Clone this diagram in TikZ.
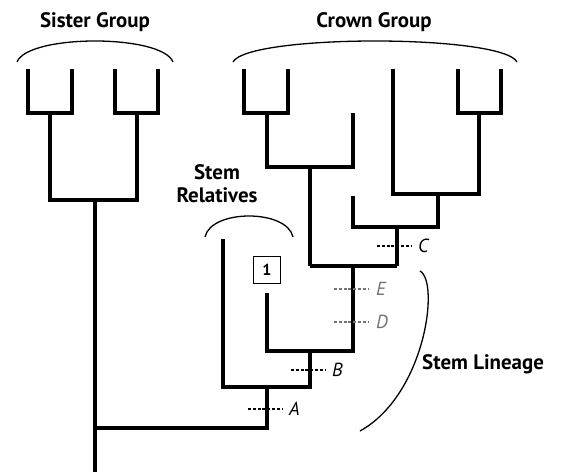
\documentclass[tikz,border=0pt]{standalone}
\usepackage{fontspec}
\setmainfont{PT Sans}
\begin{document}
\begin{tikzpicture}[x=1bp,y=-1bp,
  branch/.style={line width=3.4bp,line cap=butt,line join=miter},
  brace/.style={line width=1.3bp},
  tick/.style={line width=1.7bp,dash pattern=on 3bp off 1.8bp},
  ticklabel/.style={font=\fontsize{19}{19}\selectfont\itshape,anchor=west,inner sep=0pt},
  grp/.style={font=\fontsize{21}{23}\selectfont\bfseries,align=center,inner sep=0pt}]
\useasboundingbox (0,0) rectangle (563,474);
% sister group
\draw[branch] (28,69) -- (28,113) -- (72,113) -- (72,69);
\draw[branch] (115,69) -- (115,113) -- (158,113) -- (158,69);
\draw[branch] (50,113) -- (50,200) -- (137,200) -- (137,113);
\draw[branch] (95,200) -- (95,472);
\draw[branch] (95,428) -- (267,428) -- (267,387);
% stem relatives
\draw[branch] (223,239) -- (223,387) -- (310,387) -- (310,351);
\draw[branch] (267,293) -- (267,351) -- (353,351) -- (353,266);
% crown group
\draw[branch] (310,266) -- (397,266);
\draw[branch] (244,69) -- (244,113) -- (288,113) -- (288,69);
\draw[branch] (267,113) -- (267,167) -- (353,167) -- (353,113);
\draw[branch] (310,167) -- (310,266);
\draw[branch] (458,69) -- (458,113) -- (501,113) -- (501,69);
\draw[branch] (393,69) -- (393,194) -- (479,194) -- (479,113);
\draw[branch] (353,196) -- (353,227) -- (438,227) -- (438,194);
\draw[branch] (397,227) -- (397,266);
% braces
\draw[brace] (17,62) .. controls (28,34) and (162,34) .. (173,62);
\draw[brace] (233,62) .. controls (248,34) and (502,34) .. (517,62);
\draw[brace] (205,237) .. controls (211,209) and (287,209) .. (293,237);
\draw[brace] (420,271) .. controls (440,282) and (425,395) .. (360,431);
% labels
\node[grp] (sister) at (95,22) {Sister Group};
\node[grp] (crown) at (374,22) {Crown Group};
\node[grp] (stemrel) at (217,184) {Stem\\[0bp]Relatives};
\node[grp,anchor=west] (stemlin) at (422,364) {Stem Lineage};
\node[draw,line width=1.5bp,minimum size=27bp,inner sep=0pt,font=\fontsize{16}{16}\selectfont\bfseries] (one) at (267,270) {1};
% dashed markers
\coordinate (c0) at (377,246); \coordinate (c1) at (412,246);
\coordinate (e0) at (334,289); \coordinate (e1) at (369,289);
\coordinate (d0) at (334,322); \coordinate (d1) at (369,322);
\coordinate (b0) at (291,370); \coordinate (b1) at (326,370);
\coordinate (a0) at (248,409); \coordinate (a1) at (283,409);
\draw[tick] (c0) -- (c1);
\draw[tick,black!55] (e0) -- (e1);
\draw[tick,black!55] (d0) -- (d1);
\draw[tick] (b0) -- (b1);
\draw[tick] (a0) -- (a1);
\node[ticklabel] (lc) at (418,246) {C};
\node[ticklabel,text=black!55] (le) at (376,289) {E};
\node[ticklabel,text=black!55] (ld) at (376,322) {D};
\node[ticklabel] (lb) at (332,370) {B};
\node[ticklabel] (la) at (289,409) {A};
\end{tikzpicture}
\end{document}
